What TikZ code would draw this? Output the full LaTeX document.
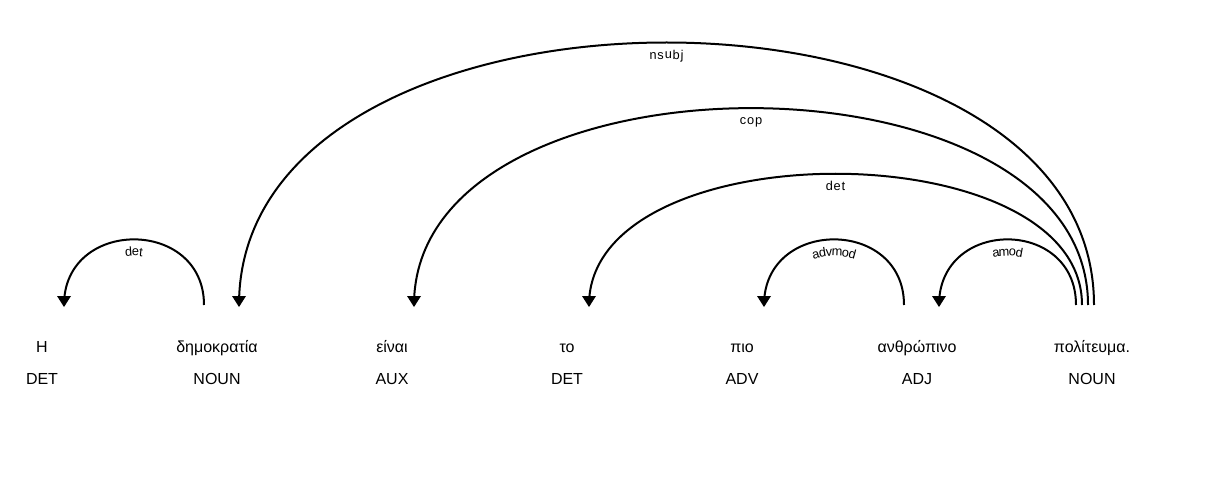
\documentclass[tikz,border=0pt]{standalone}
\usepackage{fontspec}
\setmainfont{Liberation Sans}
\usetikzlibrary{decorations.text}
% dependency arc: name, start x, end x, level, label
\newcommand\deparc[5]{%
  \pgfmathsetmacro\cy{305-87.5*#4}%
  \coordinate (#1s) at (#2,305);
  \coordinate (#1e) at (#3,305);
  \coordinate (#1c) at (#2,\cy);
  \coordinate (#1d) at (#3,\cy);
  \draw[deparcline] (#1s) .. controls (#1c) and (#1d) .. (#1e);
  \fill[arrowtip] (#1e) ++(0,2) -- ++(-7,-11) -- ++(14,0) -- cycle;
  \path[decorate, decoration={text effects along path, text={#5}, text align=center,
        raise=-16.5pt, text effects/.cd, text along path,
        characters={font=\fontsize{12.8}{14}\selectfont, inner sep=0pt, anchor=base},
        character widths={font=\fontsize{12.8}{14}\selectfont, inner xsep=0.5pt, inner ysep=0pt}}]
    (#1e) .. controls (#1d) and (#1c) .. (#1s);
}
\begin{document}
\begin{tikzpicture}[x=1pt,y=-1pt,
  word/.style={font=\fontsize{16}{19}\selectfont, anchor=base, inner sep=0pt},
  deparcline/.style={line width=2pt, line cap=butt},
  arrowtip/.style={fill=black},
]
\useasboundingbox (0,0) rectangle (1212,481);
\fill[white] (0,0) rectangle (1212,481);
% words and their tags
\foreach \i/\w/\t in {0/Η/DET,1/δημοκρατία/NOUN,2/είναι/AUX,3/το/DET,4/πιο/ADV,5/ανθρώπινο/ADJ,6/πολίτευμα./NOUN}{
  \node[word] (w\i) at (42+175*\i,352) {\w};
  \node[word] (t\i) at (42+175*\i,384) {\t};
}
% dependency arcs
\deparc{a}{204}{64}{1}{det}
\deparc{b}{1094}{239}{4}{nsubj}
\deparc{c}{1088}{414}{3}{cop}
\deparc{d}{1082}{589}{2}{det}
\deparc{e}{904}{764}{1}{advmod}
\deparc{f}{1076}{939}{1}{amod}
\end{tikzpicture}
\end{document}
